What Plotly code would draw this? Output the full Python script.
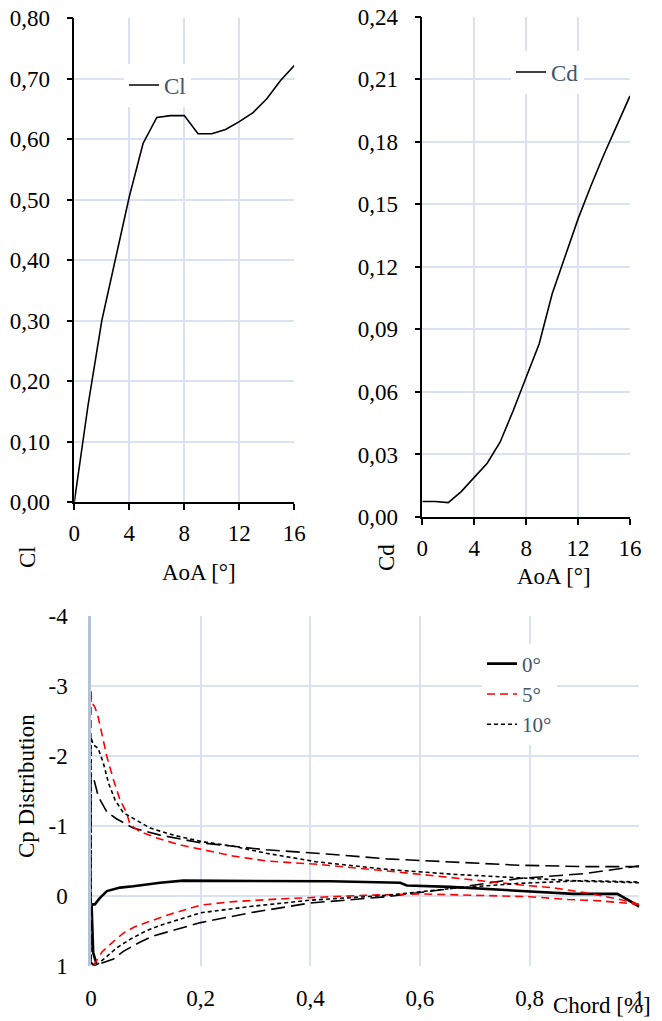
import plotly.graph_objects as go

# ---------------- data ----------------
aoa = [0, 1, 2, 3, 4, 5, 6, 7, 8, 9, 10, 11, 12, 13, 14, 15, 16]
cl = [0.0, 0.16, 0.30, 0.40, 0.505, 0.593, 0.636, 0.639, 0.639, 0.609, 0.609,
      0.616, 0.629, 0.644, 0.667, 0.697, 0.722]
cd = [0.0074, 0.0074, 0.0069, 0.0122, 0.019, 0.0258, 0.036, 0.051, 0.067,
      0.083, 0.107, 0.125, 0.143, 0.159, 0.174, 0.188, 0.202]

# Cp distributions (trailing edge -> leading edge along upper, then back along lower)
x_0 = [1.0, 0.96, 0.88, 0.78, 0.655, 0.576, 0.564, 0.436, 0.3, 0.168, 0.126, 0.1,
       0.077, 0.053, 0.029, 0.016, 0.007, 0.001, 0.004, 0.01]
cp_0 = [0.15, -0.03, -0.03, -0.07, -0.13, -0.15, -0.19, -0.21, -0.22, -0.22, -0.19,
        -0.16, -0.14, -0.12, -0.07, 0.03, 0.12, 0.12, 0.81, 0.97]

x_5 = [1.0, 0.965, 0.9, 0.84, 0.78, 0.72, 0.6, 0.418, 0.32, 0.26, 0.2, 0.162, 0.12,
       0.089, 0.071, 0.065, 0.053, 0.041, 0.029, 0.02, 0.013, 0.007, 0.001, 0.0,
       0.0, 0.004, 0.01, 0.02, 0.038, 0.059, 0.08, 0.108, 0.14, 0.2, 0.26, 0.35,
       0.435, 0.5, 0.6, 0.72, 0.8, 0.87, 0.93, 1.0]
cp_5 = [0.12, 0.05, -0.05, -0.12, -0.16, -0.21, -0.31, -0.45, -0.5, -0.57, -0.67,
        -0.73, -0.83, -0.92, -1.02, -1.19, -1.37, -1.66, -1.99, -2.33, -2.56, -2.70,
        -2.77, -2.94, 0.95, 1.0, 0.92, 0.8, 0.67, 0.53, 0.44, 0.36, 0.27, 0.13, 0.08,
        0.04, 0.01, -0.01, -0.03, -0.01, 0.01, 0.05, 0.07, 0.12]

x_10 = [1.0, 0.9, 0.78, 0.66, 0.54, 0.41, 0.32, 0.26, 0.2, 0.15, 0.108, 0.08, 0.059,
        0.044, 0.032, 0.0225, 0.013, 0.004, 0.0, 0.0, 0.005, 0.013, 0.029, 0.047,
        0.071, 0.1, 0.126, 0.2, 0.29, 0.4, 0.54, 0.66, 0.78, 0.9, 1.0]
cp_10 = [-0.19, -0.21, -0.26, -0.31, -0.38, -0.49, -0.61, -0.71, -0.78, -0.87, -0.97,
         -1.1, -1.19, -1.37, -1.61, -1.9, -2.11, -2.16, -2.27, 0.95, 1.0, 0.97, 0.86,
         0.74, 0.62, 0.5, 0.42, 0.24, 0.15, 0.06, -0.01, -0.11, -0.18, -0.22, -0.2]

x_ld = [1.0, 0.9, 0.78, 0.6, 0.54, 0.43, 0.32, 0.26, 0.2, 0.126, 0.077, 0.047, 0.029,
        0.0134, 0.0055, 0.0, 0.0, 0.008, 0.016, 0.041, 0.059, 0.089, 0.114, 0.2, 0.29,
        0.4, 0.54, 0.66, 0.78, 0.9, 1.0]
cp_ld = [-0.42, -0.42, -0.44, -0.51, -0.53, -0.6, -0.66, -0.71, -0.76, -0.87, -0.97,
         -1.1, -1.2, -1.42, -1.66, -1.73, 0.95, 1.0, 0.97, 0.9, 0.79, 0.66, 0.57, 0.38,
         0.24, 0.1, 0.01, -0.11, -0.25, -0.32, -0.43]

cp_ticks = [-4, -3, -2, -1, 0, 1]
cp_ticktext = ["-4", "-3", "-2", "-1", "0", "1"]

# ---------------- figure ----------------
W, H = 662, 1021
FONT = "Liberation Serif, Times New Roman, serif"
GRID = "#d9e1f2"

fig = go.Figure()

fig.add_trace(go.Scatter(x=aoa, y=cl, mode="lines", name="Cl",
                         line=dict(color="black", width=1.6),
                         xaxis="x", yaxis="y", legend="legend"))
fig.add_trace(go.Scatter(x=aoa, y=cd, mode="lines", name="Cd",
                         line=dict(color="black", width=1.6),
                         xaxis="x2", yaxis="y2", legend="legend2"))

fig.add_trace(go.Scatter(x=x_ld, y=cp_ld, mode="lines", name="",
                         line=dict(color="black", width=1.6, dash="14px,6px"),
                         xaxis="x3", yaxis="y3", showlegend=False))
fig.add_trace(go.Scatter(x=x_0, y=cp_0, mode="lines", name="0°",
                         line=dict(color="black", width=2.6),
                         xaxis="x3", yaxis="y3", legend="legend3"))
fig.add_trace(go.Scatter(x=x_5, y=cp_5, mode="lines", name="5°",
                         line=dict(color="#ff0000", width=1.6, dash="8px,5px"),
                         xaxis="x3", yaxis="y3", legend="legend3"))
fig.add_trace(go.Scatter(x=x_10, y=cp_10, mode="lines", name="10°",
                         line=dict(color="black", width=1.6, dash="4px,3px"),
                         xaxis="x3", yaxis="y3", legend="legend3"))


def px_x(p):
    return p / W


def px_y(p):
    return 1 - p / H


tickfont = dict(family=FONT, size=23, color="black")

top_x = dict(range=[0, 16], dtick=4, tick0=0, showgrid=True, gridcolor=GRID,
             gridwidth=1.5, zeroline=False, showline=True, linecolor="black",
             linewidth=1.5, ticks="outside", ticklen=6, tickwidth=1.5,
             tickcolor="black", tickfont=tickfont, ticklabelstandoff=4,
             automargin=False)
top_y = dict(showgrid=True, gridcolor=GRID, gridwidth=1.5, zeroline=False,
             showline=True, linecolor="black", linewidth=1.5, ticks="outside",
             ticklen=6, tickwidth=1.5, tickcolor="black", tickfont=tickfont,
             tickformat=".2f", ticklabelstandoff=12, automargin=False)

fig.update_layout(
    width=W, height=H, margin=dict(l=0, r=0, t=0, b=0, autoexpand=False),
    paper_bgcolor="white", plot_bgcolor="white",
    separators=", ",
    font=dict(family=FONT, size=23, color="black"),
    xaxis=dict(top_x, domain=[px_x(74.3), px_x(294.3)], anchor="y"),
    yaxis=dict(top_y, domain=[px_y(502), px_y(18.3)], anchor="x",
               range=[0, 0.8], dtick=0.1, tick0=0),
    xaxis2=dict(top_x, domain=[px_x(422.3), px_x(630)], anchor="y2"),
    yaxis2=dict(top_y, domain=[px_y(517), px_y(16.7)], anchor="x2",
                range=[0, 0.24], dtick=0.03, tick0=0),
    xaxis3=dict(domain=[px_x(91), px_x(639.3)], anchor="y3", range=[0, 1],
                dtick=0.2, tick0=0, showgrid=True, gridcolor=GRID, gridwidth=1.5,
                zeroline=False, showline=False, ticks="", tickfont=tickfont,
                ticklabelstandoff=16, automargin=False),
    yaxis3=dict(domain=[px_y(966), px_y(616)], anchor="x3", range=[1, -4],
                tickmode="array", tickvals=cp_ticks, ticktext=cp_ticktext,
                showgrid=True, gridcolor=GRID, gridwidth=1.5, zeroline=False,
                showline=True, linecolor="#b4c0d6", linewidth=2.5, ticks="",
                tickfont=tickfont, ticklabelstandoff=16, automargin=False,
                layer="below traces"),
    legend=dict(x=px_x(124), y=px_y(85), xanchor="left", yanchor="middle",
                bgcolor="white", font=dict(family=FONT, size=23, color="#44546a")),
    legend2=dict(x=px_x(511), y=px_y(72), xanchor="left", yanchor="middle",
                 bgcolor="white", font=dict(family=FONT, size=23, color="#44546a")),
    legend3=dict(x=px_x(482), y=px_y(694), xanchor="left", yanchor="middle",
                 bgcolor="white", font=dict(family=FONT, size=21, color="#44546a"),
                 tracegroupgap=0),
    annotations=[
        dict(text="Cl", x=px_x(27), y=px_y(557), xref="paper", yref="paper",
             textangle=-90, showarrow=False, xanchor="center", yanchor="middle",
             font=dict(family=FONT, size=23, color="black")),
        dict(text="AoA [°]", x=px_x(199), y=px_y(572), xref="paper", yref="paper",
             showarrow=False, xanchor="center", yanchor="middle",
             font=dict(family=FONT, size=23, color="black")),
        dict(text="Cd", x=px_x(386), y=px_y(558), xref="paper", yref="paper",
             textangle=-90, showarrow=False, xanchor="center", yanchor="middle",
             font=dict(family=FONT, size=23, color="black")),
        dict(text="AoA [°]", x=px_x(554), y=px_y(576), xref="paper", yref="paper",
             showarrow=False, xanchor="center", yanchor="middle",
             font=dict(family=FONT, size=23, color="black")),
        dict(text="Cp Distribution", x=px_x(26), y=px_y(786), xref="paper",
             yref="paper", textangle=-90, showarrow=False, xanchor="center",
             yanchor="middle", font=dict(family=FONT, size=23, color="black")),
        dict(text="Chord [%]", x=px_x(602), y=px_y(1005), xref="paper",
             yref="paper", showarrow=False, xanchor="center", yanchor="middle",
             font=dict(family=FONT, size=23, color="black")),
    ],
)

fig.write_html("out.html")
